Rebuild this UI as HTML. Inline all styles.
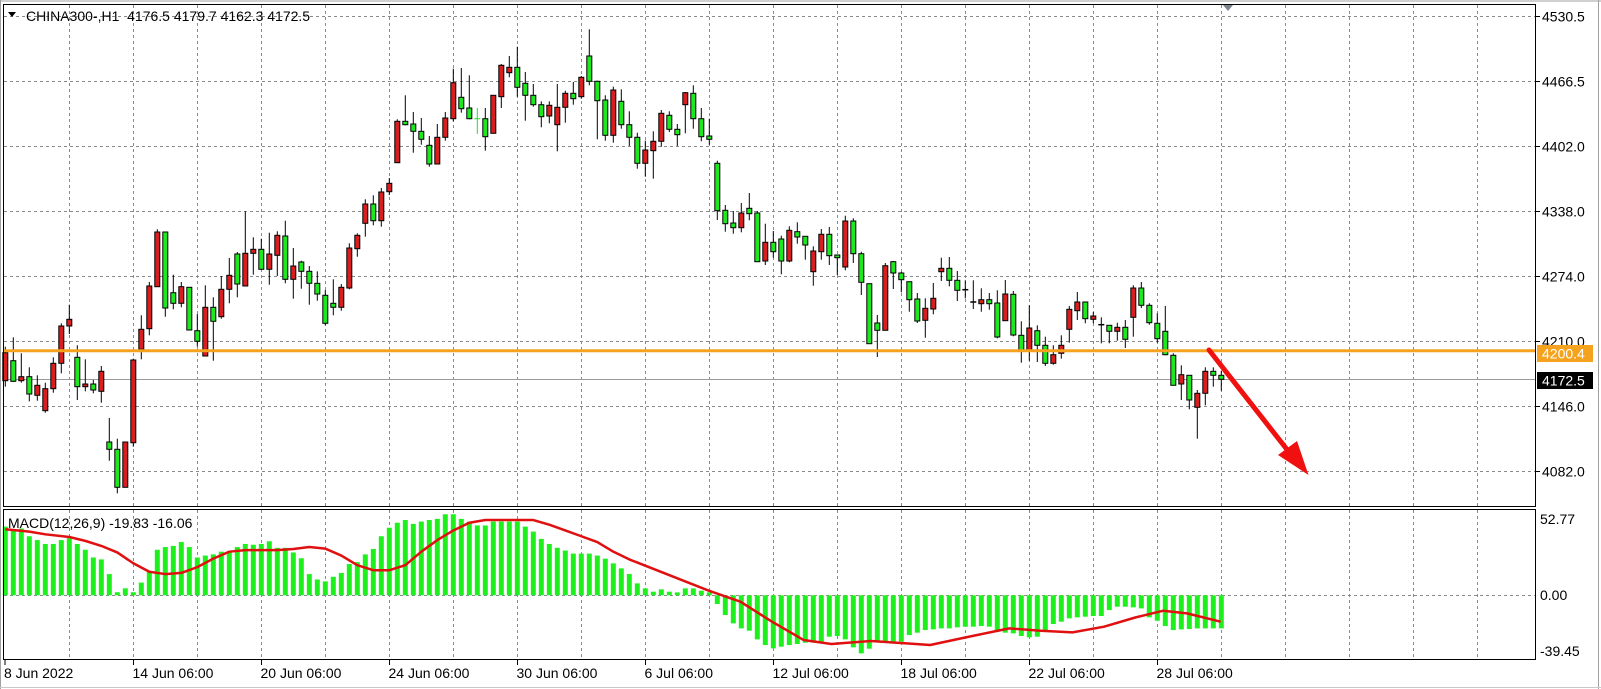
<!DOCTYPE html>
<html><head><meta charset="utf-8">
<style>
html,body{margin:0;padding:0;background:#fff;}
svg{display:block;}
text{font-family:"Liberation Sans",sans-serif;font-size:12px;fill:#000;white-space:pre;}
text.b{font-size:14px;}
</style></head>
<body>
<svg id="s" width="1601" height="689" xmlns="http://www.w3.org/2000/svg"></svg>
<script>
const C=[
[346.7,352.7,380.7,386.7,'r'],[337.3,360.7,381.3,382,'g'],[353.3,376.7,380.7,382.7,'r'],[367.3,376.7,394,401.3,'g'],[375.3,385.3,395.3,400.7,'r'],
[382.7,388.7,410.7,412.7,'r'],[357.3,363.3,388.7,392.7,'r'],[323.3,326,363.3,373.3,'r'],[304.7,319.3,326,334,'r'],[345.3,357.3,386.7,400,'g'],
[359.3,384,386.7,391.3,'r'],[380,384,390,393.3,'g'],[366,371.3,391.3,402.7,'r'],[418,442,449.3,460.7,'g'],[438.7,449.3,487.3,493.3,'g'],
[442,442,487.3,487.3,'r'],[358.7,360,442.7,446.7,'r'],[315.3,329.3,349.3,359.3,'r'],[282,286,328.7,335.3,'r'],[229.3,232,286.7,286.7,'r'],
[232,232,308,316.7,'g'],[274.7,292.7,303.3,309.3,'g'],[282,286.7,303.3,307.3,'r'],[287.3,287.3,330,330,'g'],[314,330.7,341.3,346.7,'g'],
[285.3,307.3,356,356,'r'],[297.3,307.3,321.3,360.7,'g'],[276,289.3,316.7,318.7,'r'],[258,275.3,289.3,303.3,'r'],[252,254,284,297.3,'g'],
[211.3,253.3,286,286,'r'],[237.3,249.3,253.3,274.7,'r'],[238.7,249.3,269.3,270,'g'],[232.7,254,269.3,284.7,'r'],[231.3,235.3,255.3,276,'r'],
[220.7,236,279.3,283.3,'g'],[248,266,279.3,298.7,'r'],[260.7,262,271.3,288.7,'g'],[266,271.3,283.3,304.7,'g'],[271.3,283.3,294,300.7,'g'],
[290,295.3,323.3,325.3,'g'],[279.3,303.3,307.3,315.3,'g'],[284,287.3,307.3,310.7,'r'],[243.3,248,288,289.3,'r'],[233.3,235.3,248.7,256.7,'r'],
[199.3,204,223.3,236.7,'r'],[195.3,204,220.7,225.3,'g'],[188,192,220.7,226.7,'r'],[178,183.3,191.7,195,'r'],[119.3,121.3,162.7,162.7,'r'],
[95.3,121.3,124.7,125.3,'g'],[112,124,131.3,152.7,'g'],[118,131.3,139.3,144.7,'g'],[136,145.3,164,166.7,'g'],[124,137.3,164,164,'r'],
[112,118,137.3,140.7,'r'],[68.7,82.7,118.7,121.3,'r'],[68,97.3,108.7,112.7,'g'],[75.3,108,118.7,119.3,'g'],[108,118.7,119.3,134,'x'],
[108,118.7,136.7,150.7,'g'],[95.3,95.3,133.3,133.3,'r'],[64,65.3,96.7,108,'r'],[56,67.3,72.7,77.3,'r'],[46.7,67.3,87.3,96.7,'g'],
[72,83.3,95.3,120.7,'g'],[84,95.3,104.7,106.7,'g'],[101.3,104.7,116.7,127.3,'g'],[101.3,105.3,116,123.3,'r'],[84,107.3,124.7,151.3,'r'],
[90.7,93.3,107.3,122.7,'r'],[82,93.3,98.7,104.7,'g'],[76,77.3,96.7,98.7,'r'],[29.3,56,81.3,85.3,'g'],[80.7,81.3,100.7,139.3,'g'],
[95.3,100,135.3,140.7,'g'],[86.7,90,135.3,142.7,'r'],[89.3,101.3,124.7,128.7,'g'],[111.3,124.7,137.3,146,'g'],[132.7,137.3,163.3,168.7,'g'],
[140.7,150,163.3,176.7,'r'],[131.3,141.3,150.7,178.7,'r'],[110,113.3,141.3,146.7,'r'],[111.3,115.3,129.3,132,'g'],[124,129.3,134.7,146,'g'],
[92,92.7,104.7,133.3,'r'],[85.3,93.3,118.7,128.7,'g'],[108,118.7,136.7,141.3,'g'],[118.7,136,139.3,144.7,'g'],[160.7,163.3,210.7,220,'g'],
[205,210.3,223.7,231.7,'g'],[211,223,227.7,233.7,'g'],[203,213,227.7,232.3,'r'],[193,208.3,213.7,220.3,'g'],[211,213,261.7,261.7,'g'],
[223.7,242.3,261,265,'r'],[231,242.3,251.7,257.7,'g'],[235.7,239,261,274.3,'g'],[226.3,230.3,261,262.3,'r'],[222.3,231.7,237,243.7,'g'],
[236.3,236.3,245,259.7,'g'],[246.3,251,271.7,285.7,'r'],[229,234.3,251.7,259.7,'r'],[227,234.3,255.7,265,'g'],[255,255,257.7,275,'g'],
[215.7,221,267,270.3,'r'],[218.3,221,253.7,263,'g'],[251.7,253.7,282.3,295,'g'],[283.7,283.7,343.7,343.7,'g'],[315,323,330.3,357,'g'],
[263,265.7,330.3,330.3,'r'],[261,261.7,273,289,'g'],[271.7,273,279.7,292.3,'g'],[281.7,281.7,299.7,311.7,'g'],[293,299,321,323,'g'],
[298.3,308.3,320.3,337.7,'r'],[283,298.3,309,314.3,'r'],[257.7,268.3,271.7,281,'r'],[257,268.3,280.3,286.3,'g'],[271,280.3,290.3,301,'g'],
[280.3,289.7,290.3,298.3,'k'],[280.3,302,302.7,309,'k'],[288.3,299.7,303.7,311.7,'r'],[293,299.7,303.7,309.7,'g'],[290.3,303,337,338.3,'g'],
[280,294,320.7,320.7,'r'],[291,294.3,335,336.3,'g'],[321.3,335.3,350,362.7,'g'],[305.3,328,350,360.7,'r'],[325.3,330.7,345.3,362,'g'],
[336.7,345.3,363.3,366,'g'],[345.3,354.7,363.3,364.7,'r'],[335.3,345.3,353.3,358.7,'r'],[306,309.3,329.3,342.7,'r'],[292,302,310.7,320,'r'],
[302,302,318.7,323.3,'g'],[312,316,319.3,323.3,'r'],[317.3,324.7,325.3,343.3,'k'],[325.3,325.3,331.3,343.3,'g'],[322.7,327.3,331.3,340.7,'r'],
[320,327.3,339.3,348,'g'],[285.3,288,317.3,336.7,'r'],[282,288,305.3,308,'g'],[303.3,305.3,322.7,324.7,'g'],[313.3,323.3,338.7,342.7,'g'],
[306,331.3,354.7,355.3,'g'],[353.3,355.3,385.3,385.3,'g'],[365.3,374.7,384,400,'r'],[375.3,375.3,400,409.3,'g'],[390,393.3,407.3,438.7,'r'],
[367.3,371.3,393.3,405.3,'r'],[367.3,371.3,375.3,386.7,'g'],[370.7,375.3,379.3,390.7,'g']];
const H7=[65,75,70,90,100,110,110,100,95,110,125,145,150,188,235,225,235,210,180,125,118,115,105,118,145,140,137,130,130,118,110,112,110,103,120,120,132,147,188,202,207,195,185,162,157,137,123,90,68,55,48,58,52,48,45,33,33,45,52,62,62,52,52,52,52,65,78,97,110,120,127,135,135,135,140,148];
const H8=[10,25,42,70,85,95,88,95,97,85,85,92,97,132,165,190,205,212,238,255,265,260,255,252,248,248,245,230,228,238,262,280,266,245,248,248,245,225,218,210,208,205,205,202,200,200,198,200,215,218,220,228,232,230,215,192,185,175,172,170,168,168,150,140,140,142,145,172,182,198,210,208,207,205,205,205,205];
const S7=[[0,72],[3,78],[5,85],[8,92],[10,102],[12,115],[14,132],[16,160],[18,182],[20,188],[22,185],[24,170],[26,148],[28,130],[30,126],[34,126],[36,123],[38,118],[40,122],[42,140],[44,165],[46,178],[48,178],[50,165],[52,130],[54,100],[56,75],[58,55],[60,48],[66,48],[68,60],[70,75],[72,90],[74,105],[76,130],[78,150]];
const S8=[[250,92],[330,125],[410,185],[490,240],[560,252],[660,243],[750,250],[810,255],[900,232],[1010,205],[1090,212],[1170,217],[1250,200],[1330,172],[1400,152],[1460,160],[1545,185]];
let o='';
const X=i=>5.3+8*i;
o+='<g stroke="#8a8a8a" stroke-width="1" stroke-dasharray="3,3">';
for(let x=69.5;x<1536;x+=64){o+=`<line x1="${x}" y1="5" x2="${x}" y2="506"/><line x1="${x}" y1="510" x2="${x}" y2="659"/>`;}
[16.5,81.5,146.5,211.5,276.5,341.5,406.5,471.5].forEach(y=>o+=`<line x1="4" y1="${y}" x2="1535" y2="${y}"/>`);
o+=`<line x1="4" y1="595.5" x2="1535" y2="595.5"/>`;
o+='</g>';
o+='<line x1="4" y1="379.5" x2="1536" y2="379.5" stroke="#9a9a9a" stroke-width="1"/>';
C.forEach((c,i)=>{const x=X(i);const [h,bt,bb,l,t]=c;
 if(t==='x'){o+=`<line x1="${x}" y1="${h}" x2="${x}" y2="${l}" stroke="#22e022"/><line x1="${x-3}" y1="${bt}" x2="${x+3}" y2="${bt}" stroke="#22e022"/>`;return;}
 o+=`<line x1="${x}" y1="${h}" x2="${x}" y2="${l}" stroke="#000" stroke-width="1"/>`;
 if(t==='k'){o+=`<line x1="${x-3}" y1="${bt}" x2="${x+3}" y2="${bt}" stroke="#000" stroke-width="1.5"/>`;return;}
 const f=t==='r'?'#d81e1e':'#1ee81e';
 o+=`<rect x="${x-2.5}" y="${bt}" width="5" height="${Math.max(bb-bt,1.5)}" fill="${f}" stroke="#000" stroke-width="1"/>`;
});
o+='<line x1="4" y1="350.7" x2="1536" y2="350.7" stroke="#f5a31e" stroke-width="3"/>';
o+='<line x1="1209" y1="350" x2="1296" y2="461" stroke="#f01010" stroke-width="5" stroke-linecap="round"/>';
o+='<polygon points="1308.5,475 1278,455 1297,441" fill="#f01010"/>';
for(let i=0;i<153;i++){const x=X(i);let y0,y1;
 if(i<76){const h=(243-H7[i])*0.386;y0=595.3-h;y1=595.3;}
 else{const v=H8[i-76];if(v<104){y0=594.7+(v-104)/3;y1=595.3;}else{y0=595.3;y1=594.7+(v-104)/3;}}
 o+=`<rect x="${x-2.5}" y="${y0}" width="5" height="${Math.max(y1-y0,1)}" fill="#1ef01e"/>`;}
let pts=S7.map(p=>`${X(p[0])},${595.3-(243-p[1])*0.386}`);
S8.forEach(p=>pts.push(`${610+p[0]/2.53},${594.7+(p[1]-104)/3}`));
o+=`<polyline points="${pts.join(' ')}" fill="none" stroke="#e01010" stroke-width="2.5" stroke-linejoin="round"/>`;
o+='<rect x="3.5" y="4.5" width="1532" height="502" fill="none" stroke="#000"/>';
o+='<rect x="3.5" y="509.5" width="1532" height="150" fill="none" stroke="#000"/>';
o+='<line x1="0" y1="1" x2="1601" y2="1" stroke="#a0a0a0"/><line x1="1598.5" y1="0" x2="1598.5" y2="689" stroke="#a0a0a0"/><line x1="0.5" y1="0" x2="0.5" y2="689" stroke="#a0a0a0"/><line x1="0" y1="687.5" x2="1601" y2="687.5" stroke="#c8c8c8"/>';
o+='<polygon points="1223,5 1233,5 1228,11" fill="#7a8590"/>';
o+='<polygon points="8,12 16,12 12,17" fill="#000"/>';
o+='<text class="b" x="26" y="21">CHINA300-,H1  4176.5 4179.7 4162.3 4172.5</text>';
o+='<text class="b" x="8" y="528">MACD(12,26,9) -19.83 -16.06</text>';
[[4530.5,16.5],[4466.5,81.5],[4402.0,146.5],[4338.0,211.5],[4274.0,276.5],[4210.0,341.5],[4146.0,406.5],[4082.0,471.5]].forEach(p=>{
 o+=`<line x1="1536" y1="${p[1]}" x2="1540" y2="${p[1]}" stroke="#000"/><text class="b" x="1542" y="${p[1]+5}">${p[0].toFixed(1)}</text>`;});
o+='<rect x="1537" y="345" width="56" height="17" fill="#f5a31e"/><text class="b" x="1542" y="358.5" style="fill:#fff">4200.4</text>';
o+='<rect x="1537" y="372" width="56" height="17" fill="#000"/><text class="b" x="1542" y="385.5" style="fill:#fff">4172.5</text>';
o+='<text class="b" x="1540" y="524">52.77</text><text class="b" x="1540" y="600">0.00</text><text class="b" x="1540" y="656">-39.45</text>';
const L=[[5,'8 Jun 2022'],[133.5,'14 Jun 06:00'],[261.5,'20 Jun 06:00'],[389.5,'24 Jun 06:00'],[517.5,'30 Jun 06:00'],[645.5,'6 Jul 06:00'],[773.5,'12 Jul 06:00'],[901.5,'18 Jul 06:00'],[1029.5,'22 Jul 06:00'],[1157.5,'28 Jul 06:00']];
L.forEach(l=>{o+=`<line x1="${l[0]}" y1="660" x2="${l[0]}" y2="665" stroke="#000"/><text class="b" x="${l[0]-1}" y="678">${l[1]}</text>`;});
document.getElementById('s').innerHTML=o;
</script>
</body></html>
